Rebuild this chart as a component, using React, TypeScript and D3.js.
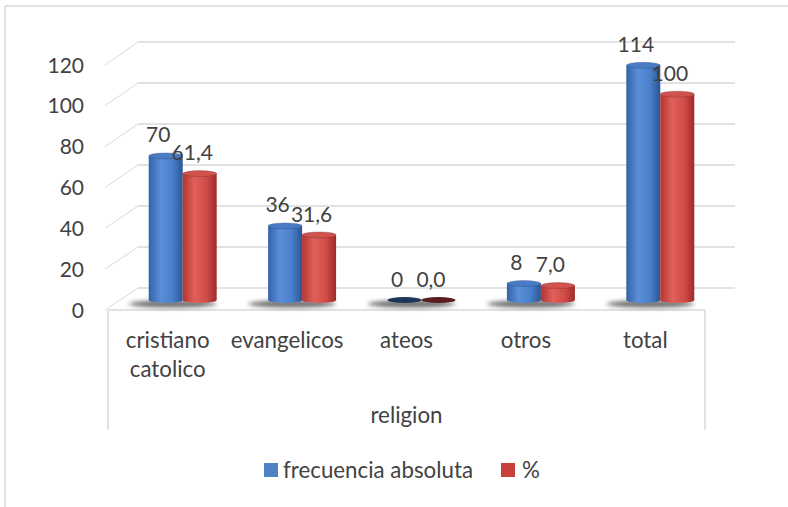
import React from "react";
import * as d3 from "d3";

const categories = [["cristiano", "catolico"], ["evangelicos"], ["ateos"], ["otros"], ["total"]];
const seriesNames = ["frecuencia absoluta", "%"];
const frecuencia = [70, 36, 0, 8, 114];
const porcentaje = [61.4, 31.6, 0, 7, 100];
const frecuenciaLabels = ["70", "36", "0", "8", "114"];
const porcentajeLabels = ["61,4", "31,6", "0,0", "7,0", "100"];
const yTicks = [0, 20, 40, 60, 80, 100, 120];
const axisTitle = "religion";

const W = 788, H = 507;
const FONT = "Lato, 'Open Sans', sans-serif";
const TEXT = "#424242";
const GRID = "#d9d9d9";

// 3D geometry: front and back planes of the floor/wall
const DX = 30;
const frontX0 = 108, frontX1 = 705;
const yFront = d3.scaleLinear().domain([0, 120]).range([310, 65]);
const yBack = d3.scaleLinear().domain([0, 120]).range([288, 42]);
const yMid = d3.scaleLinear().domain([0, 120]).range([300, 53]);
const xMid = d3.scaleBand<number>().domain(d3.range(categories.length)).range([frontX0 + DX / 2, frontX1 + DX / 2]);
const xFront = d3.scaleBand<number>().domain(d3.range(categories.length)).range([frontX0, frontX1]);

const BW = 34;
const RY = 3;
const NUM_FS = 21;
const WORD_FS = 22.3;

const series = [
  { name: seriesNames[0], values: frecuencia, labels: frecuenciaLabels, grad: "gBlue", top: "#4a7cc6", dark: "#1f3558", legend: "#4f81c7" },
  { name: seriesNames[1], values: porcentaje, labels: porcentajeLabels, grad: "gRed", top: "#d0524c", dark: "#5a1e22", legend: "#c9413d" },
];

export default function App() {
  return (
    <svg width={W} height={H} style={{ display: "block", position: "absolute", left: 0, top: 0 }}>
      <defs>
        <linearGradient id="gBlue" x1="0" x2="1" y1="0" y2="0">
          <stop offset="0" stopColor="#3363a8" />
          <stop offset="0.35" stopColor="#5b8fd8" />
          <stop offset="0.7" stopColor="#4a7fcb" />
          <stop offset="1" stopColor="#2c5593" />
        </linearGradient>
        <linearGradient id="gRed" x1="0" x2="1" y1="0" y2="0">
          <stop offset="0" stopColor="#b3332f" />
          <stop offset="0.35" stopColor="#e0605a" />
          <stop offset="0.7" stopColor="#d04c47" />
          <stop offset="1" stopColor="#9e2b29" />
        </linearGradient>
        <filter id="blur" x="-30%" y="-200%" width="160%" height="500%">
          <feGaussianBlur stdDeviation="2.2" />
        </filter>
      </defs>
      <rect x={0} y={0} width={W} height={H} fill="#fff" />
      {/* chart border */}
      <line x1={5} x2={W} y1={6} y2={6} stroke={GRID} strokeWidth={1.5} />
      <line x1={5} x2={5} y1={6} y2={H} stroke={GRID} strokeWidth={1.5} />

      {/* back wall gridlines and side diagonals */}
      {yTicks.map((t) => (
        <g key={t}>
          <line x1={frontX0 + DX} x2={frontX1 + DX} y1={yBack(t)} y2={yBack(t)} stroke={GRID} strokeWidth={1.5} />
          <line x1={frontX0 - 3} x2={frontX0 + DX} y1={yFront(t)} y2={yBack(t)} stroke={GRID} strokeWidth={1} />
          <text x={84} y={yFront(t)} dy="0.36em" textAnchor="end" fontFamily={FONT} fontSize={NUM_FS} fill={TEXT}>{t}</text>
        </g>
      ))}
      {/* floor front edge */}
      <line x1={frontX0} x2={frontX1} y1={yFront(0)} y2={yFront(0)} stroke={GRID} strokeWidth={1.5} />
      {/* category box */}
      <line x1={frontX0} x2={frontX0} y1={yFront(0)} y2={430} stroke={GRID} strokeWidth={1.5} />
      <line x1={frontX1} x2={frontX1} y1={yFront(0)} y2={430} stroke={GRID} strokeWidth={1.5} />

      {/* shadows */}
      {categories.map((_, i) => {
        const c = xMid(i)! + xMid.bandwidth() / 2;
        return <ellipse key={"s" + i} cx={c - 10} cy={yMid(0) + 4} rx={44} ry={3.5} fill="#3a3a3a" opacity={0.75} filter="url(#blur)" />;
      })}

      {/* bars */}
      {categories.map((_, i) => {
        const c = xMid(i)! + xMid.bandwidth() / 2;
        return series.map((s, si) => {
          const v = s.values[i];
          const x0 = si === 0 ? c - BW : c;
          const cx = x0 + BW / 2;
          const yb = yMid(0);
          const yt = yMid(v);
          const h = yb - yt;
          if (h < 1) {
            return (
              <g key={i + "-" + si}>
                <ellipse cx={cx} cy={yb} rx={BW / 2} ry={RY} fill={s.dark} />
              </g>
            );
          }
          return (
            <g key={i + "-" + si}>
              <path
                d={`M${x0},${yt} L${x0},${yb} A${BW / 2},${RY} 0 0 0 ${x0 + BW},${yb} L${x0 + BW},${yt} Z`}
                fill={`url(#${s.grad})`}
              />
              <ellipse cx={cx} cy={yt} rx={BW / 2} ry={RY} fill={s.top} stroke={s.dark} strokeOpacity={0.35} strokeWidth={0.8} />
            </g>
          );
        });
      })}

      {/* data labels */}
      {categories.map((_, i) => {
        const c = xMid(i)! + xMid.bandwidth() / 2;
        return series.map((s, si) => {
          const cx = (si === 0 ? c - BW / 2 : c + BW / 2) - 7.5;
          return (
            <text key={"l" + i + si} x={cx} y={yMid(s.values[i]) - 21} dy="0.36em" textAnchor="middle" fontFamily={FONT} fontSize={NUM_FS} fill={TEXT}>
              {s.labels[i]}
            </text>
          );
        });
      })}

      {/* category labels */}
      {categories.map((lines, i) => {
        const cx = xFront(i)! + xFront.bandwidth() / 2;
        return lines.map((ln, li) => (
          <text key={"c" + i + li} x={cx} y={340 + li * 29} dy="0.36em" textAnchor="middle" fontFamily={FONT} fontSize={WORD_FS} fill={TEXT}>
            {ln}
          </text>
        ));
      })}
      <text x={(frontX0 + frontX1) / 2} y={415} dy="0.36em" textAnchor="middle" fontFamily={FONT} fontSize={WORD_FS} fill={TEXT}>{axisTitle}</text>

      {/* legend */}
      <rect x={264} y={463} width={14} height={14} fill={series[0].legend} />
      <text x={283} y={470} dy="0.36em" fontFamily={FONT} fontSize={WORD_FS} fill={TEXT}>{series[0].name}</text>
      <rect x={501} y={463} width={14} height={14} fill={series[1].legend} />
      <text x={522} y={470} dy="0.36em" fontFamily={FONT} fontSize={WORD_FS} fill={TEXT}>{series[1].name}</text>
    </svg>
  );
}
